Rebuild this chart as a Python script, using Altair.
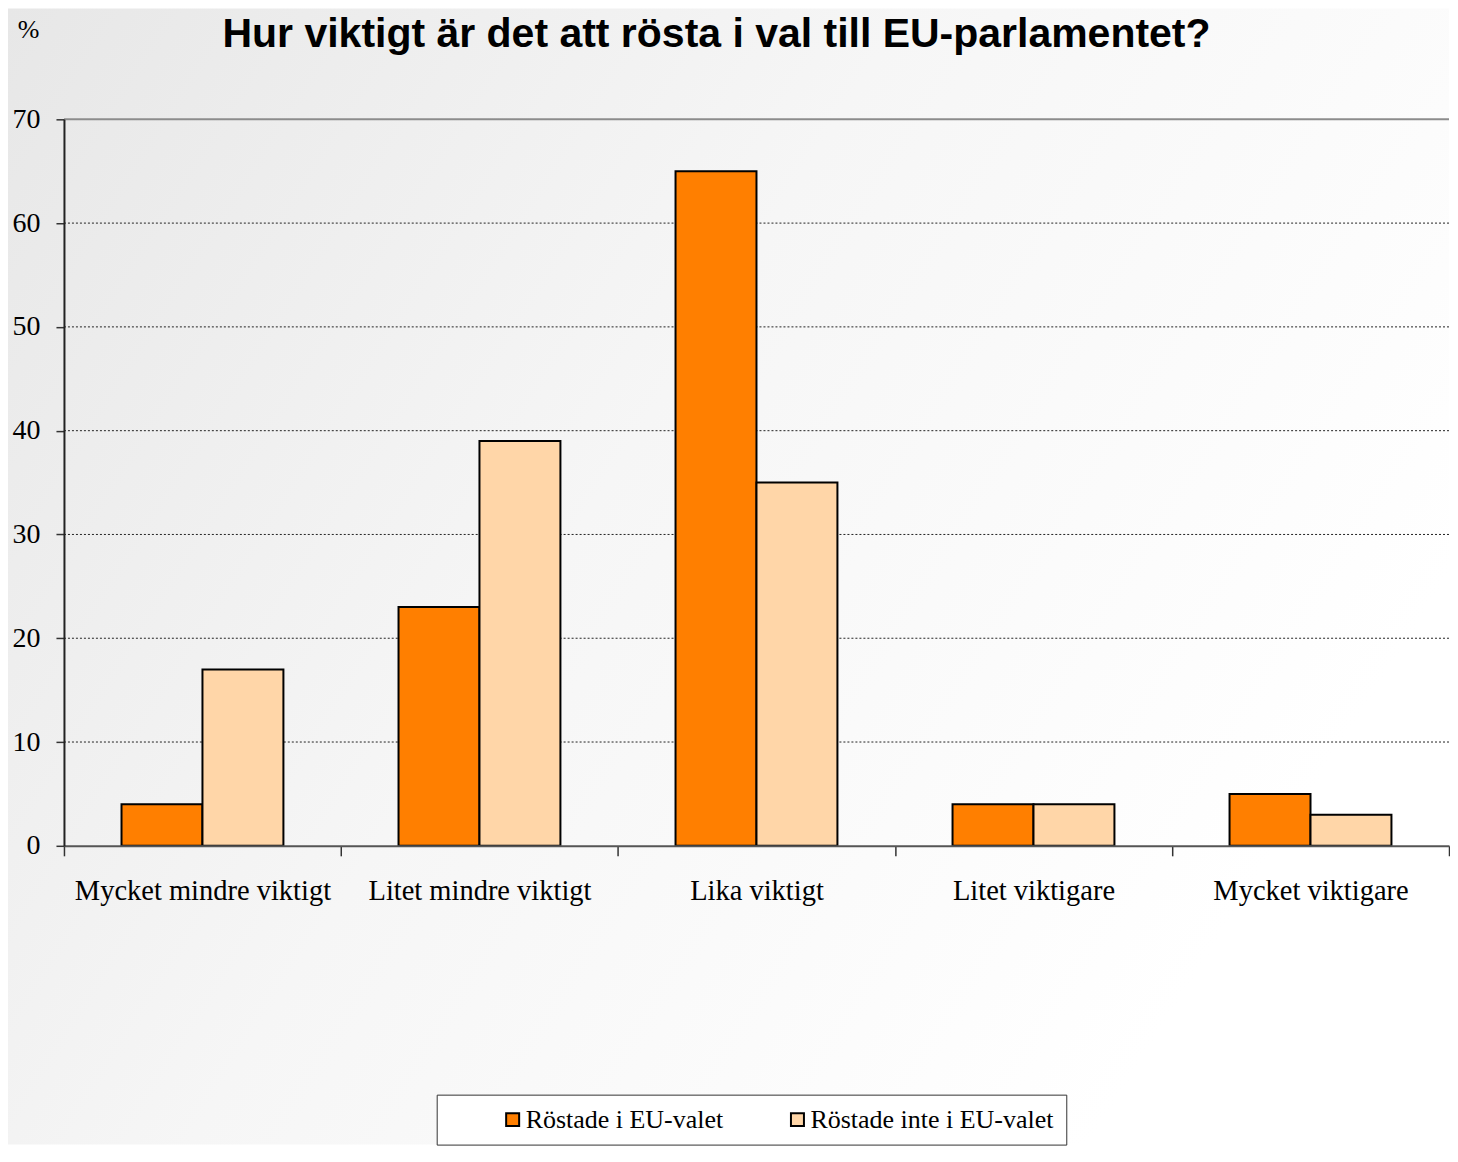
import altair as alt
import pandas as pd

categories = ["Mycket mindre viktigt", "Litet mindre viktigt", "Lika viktigt",
              "Litet viktigare", "Mycket viktigare"]
series = ["Röstade i EU-valet", "Röstade inte i EU-valet"]
voted = [4, 23, 65, 4, 5]
not_voted = [17, 39, 35, 4, 3]
grid_values = [10, 20, 30, 40, 50, 60]
top_value = [70]
y_ticks = [0, 10, 20, 30, 40, 50, 60, 70]
colors = ["#FF7F00", "#FFD6A8"]
title_text = "Hur viktigt är det att rösta i val till EU-parlamentet?"

rows = []
for c, a, b in zip(categories, voted, not_voted):
    rows.append({"kategori": c, "grupp": series[0], "procent": a})
    rows.append({"kategori": c, "grupp": series[1], "procent": b})
df = pd.DataFrame(rows)

W, H = 1386, 727
SERIF = "Liberation Serif"

bg = alt.Chart(alt.Data(values=[{}])).mark_rect(
    fill=alt.Gradient(
        gradient="linear",
        stops=[alt.GradientStop(color="#e7e7e7", offset=0),
               alt.GradientStop(color="#f6f6f6", offset=0.5),
               alt.GradientStop(color="#ffffff", offset=1)],
        x1=0, y1=0, x2=1, y2=0.5),
).encode(x=alt.value(-56), x2=alt.value(W), y=alt.value(-111), y2=alt.value(H + 299))

yscale = alt.Scale(domain=[0, 70], nice=False)

grid = alt.Chart(pd.DataFrame({"v": grid_values})).mark_rule(
    color="#222", strokeWidth=1, strokeDash=[2, 2]
).encode(y=alt.Y("v:Q", scale=yscale))

topline = alt.Chart(pd.DataFrame({"v": top_value})).mark_rule(
    color="#8c8c8c", strokeWidth=2
).encode(y=alt.Y("v:Q", scale=yscale))

bars = alt.Chart(df).mark_bar(stroke="black", strokeWidth=2).encode(
    x=alt.X("kategori:N", sort=categories,
            scale=alt.Scale(paddingInner=0, paddingOuter=0),
            axis=alt.Axis(title=None, labelAngle=0, tickBand="extent", ticks=True,
                          tickSize=10, tickColor="#333", tickWidth=1.5,
                          domainColor="#555", domainWidth=2, grid=False,
                          labelFont=SERIF, labelFontSize=28.5, labelColor="black",
                          labelPadding=21, labelLimit=500, zindex=1)),
    xOffset=alt.XOffset("grupp:N", sort=series,
                        scale=alt.Scale(paddingInner=0, paddingOuter=0.711)),
    y=alt.Y("procent:Q", scale=yscale,
            axis=alt.Axis(values=y_ticks, title="%", titleAngle=0, titleX=-36, titleY=-90,
                          titleAlign="center", titleBaseline="middle", titleFont=SERIF,
                          titleFontSize=26, titleFontWeight="normal", titleColor="black",
                          labelFont=SERIF, labelFontSize=28, labelColor="black",
                          labelPadding=16, tickSize=8, tickColor="#333", tickWidth=1.5,
                          domainColor="#222", domainWidth=2, grid=False, zindex=1)),
    color=alt.Color("grupp:N", sort=series,
                    scale=alt.Scale(domain=series, range=colors),
                    legend=alt.Legend(title=None, orient="none", legendX=373, legendY=976,
                                      direction="horizontal", padding=12,
                                      symbolOffset=51, columnPadding=10,
                                      labelFont=SERIF, labelFontSize=26, labelColor="black",
                                      labelOffset=0, labelLimit=500,
                                      symbolType="square", symbolSize=169,
                                      symbolStrokeColor="black", symbolStrokeWidth=2,
                                      strokeColor="#333", fillColor="white")),
)

chart = alt.layer(bg, grid, topline, bars).properties(
    width=W, height=H,
    title=alt.TitleParams(text=title_text, font="Liberation Sans", fontSize=41,
                          fontWeight="bold", color="black", anchor="middle", frame="group",
                          offset=-47.2, dx=-40),
    padding=0,
).configure_view(stroke=None)

chart.save("out.html", embed_options={"renderer": "svg", "actions": False})
